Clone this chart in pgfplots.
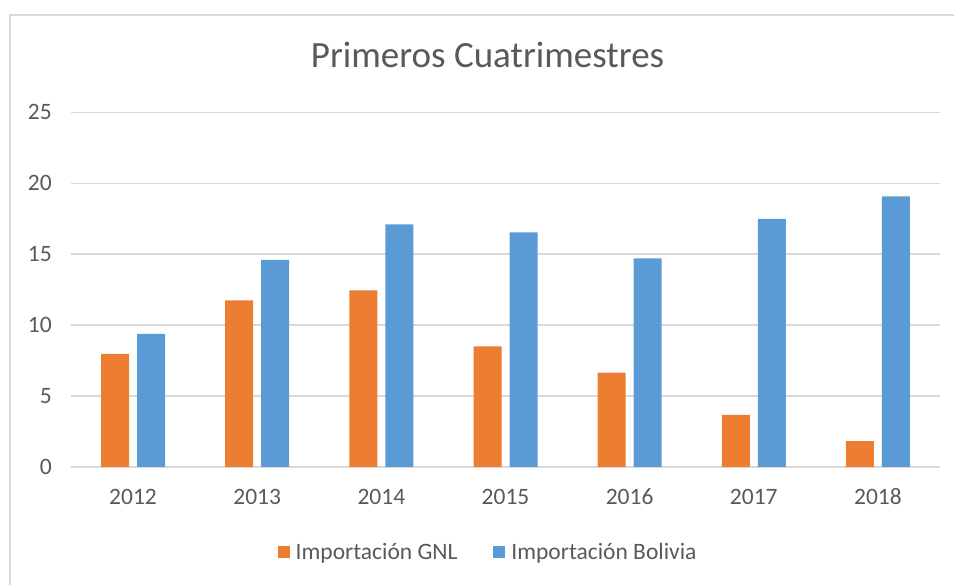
\documentclass[border=0pt]{standalone}
\usepackage{pgfplots}
\pgfplotsset{compat=1.18}
\usepackage{fontspec}
\setmainfont{Carlito}
\definecolor{gnl}{HTML}{ED7D31}
\definecolor{bol}{HTML}{5B9BD5}
\definecolor{txt}{HTML}{595959}
\definecolor{grd}{HTML}{D9D9D9}
\begin{document}
\begin{tikzpicture}[x=1pt,y=1pt]
\path[use as bounding box] (-71,-118) rectangle (883,467);
\draw[grd, line width=2pt] (-61,-118) -- (-61,452) -- (883,452);
\begin{axis}[
  at={(0,0)}, anchor=south west,
  scale only axis, width=869pt, height=354.6pt,
  ybar, bar width=28pt,
  xmin=-0.5, xmax=6.5, ymin=0, ymax=25,
  xtick={0,1,2,3,4,5,6},
  xticklabels={2012,2013,2014,2015,2016,2017,2018},
  ytick={0,5,10,15,20,25},
  ymajorgrids, grid style={grd, line width=1.5pt},
  axis x line*=bottom, axis y line*=left,
  x axis line style={grd, line width=1.5pt, -},
  y axis line style={draw=none},
  major tick length=0pt,
  /pgf/number format/assume math mode=true,
  tick label style={font=\fontsize{23.5}{28}\selectfont, text=txt},
  xticklabel style={anchor=base, yshift=-38pt},
  yticklabel style={anchor=east, inner sep=0pt, xshift=-19pt},
  legend columns=2,
  legend style={at={(0.480,-0.2397)}, anchor=center, draw=none, fill=none,
    font=\fontsize{23.5}{28}\selectfont, text=txt,
    /tikz/every even column/.append style={column sep=34pt}},
  legend image code/.code={\fill[#1] (0pt,-6pt) rectangle (12pt,6pt); \path (16pt,0pt);},
]
\addplot[fill=gnl, draw=none, bar shift=-18pt] coordinates {
  (0,7.97) (1,11.75) (2,12.45) (3,8.5) (4,6.66) (5,3.67) (6,1.83)};
\addplot[fill=bol, draw=none, bar shift=18pt] coordinates {
  (0,9.38) (1,14.6) (2,17.1) (3,16.54) (4,14.7) (5,17.5) (6,19.08)};
\legend{Importación GNL, Importación Bolivia}
\end{axis}
\node[text=txt, font=\fontsize{37}{44}\selectfont, anchor=base] at (416.5,399) {Primeros Cuatrimestres};
\end{tikzpicture}
\end{document}
